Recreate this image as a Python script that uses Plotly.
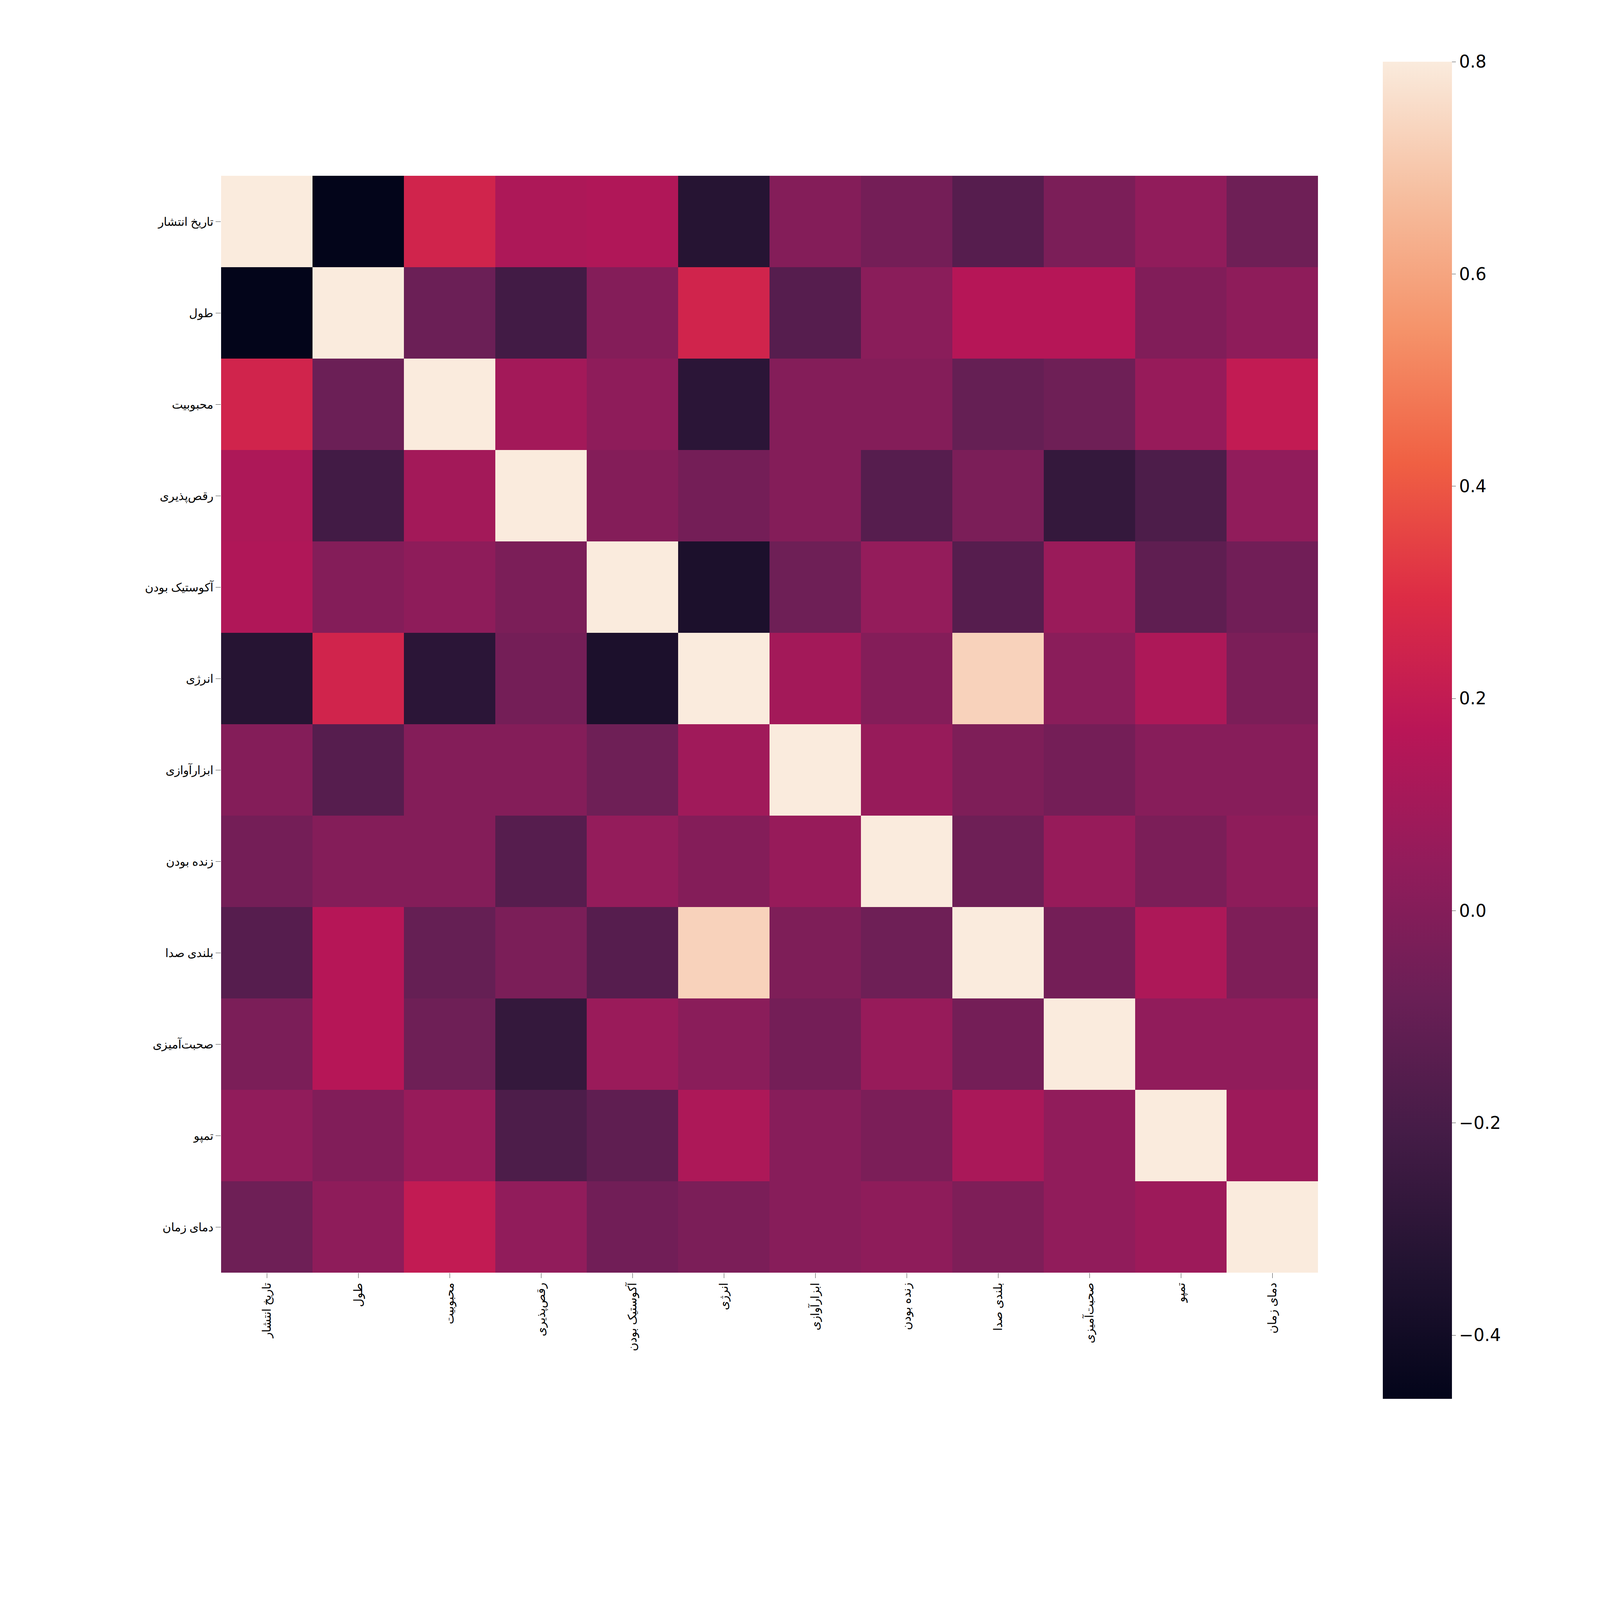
import plotly.graph_objects as go

labels = ["تاریخ انتشار", "طول", "محبوبیت", "رقص‌پذیری", "آکوستیک بودن", "انرژی",
          "ابزارآوازی", "زنده بودن", "بلندی صدا", "صحبت‌آمیزی", "تمپو", "دمای زمان"]

row0 = [1, -0.46, 0.25, 0.13, 0.14, -0.32, 0.0, -0.05, -0.15, -0.03, 0.04, -0.07]
row1 = [-0.46, 1, -0.08, -0.22, 0.0, 0.25, -0.15, 0.02, 0.16, 0.16, -0.01, 0.03]
row2 = [0.25, -0.08, 1, 0.1, 0.03, -0.3, 0.0, 0.0, -0.1, -0.07, 0.06, 0.2]
row3 = [0.13, -0.22, 0.1, 1, 0.0, -0.05, 0.0, -0.15, -0.03, -0.27, -0.18, 0.04]
row4 = [0.14, 0.0, 0.03, -0.03, 1, -0.36, -0.07, 0.05, -0.15, 0.07, -0.12, -0.06]
row5 = [-0.32, 0.25, -0.3, -0.05, -0.36, 1, 0.1, 0.0, 0.73, 0.02, 0.13, -0.03]
row6 = [0.0, -0.15, 0.0, 0.0, -0.07, 0.09, 1, 0.06, -0.02, -0.05, 0.01, 0.01]
row7 = [-0.05, 0.0, 0.0, -0.15, 0.05, 0.0, 0.06, 1, -0.07, 0.06, -0.03, 0.03]
row8 = [-0.15, 0.16, -0.1, -0.03, -0.15, 0.73, -0.02, -0.07, 1, -0.05, 0.13, -0.02]
row9 = [-0.03, 0.16, -0.07, -0.27, 0.07, 0.02, -0.05, 0.06, -0.05, 1, 0.04, 0.04]
row10 = [0.04, -0.01, 0.06, -0.18, -0.12, 0.13, 0.01, -0.03, 0.12, 0.04, 1, 0.08]
row11 = [-0.07, 0.03, 0.2, 0.04, -0.06, -0.03, 0.01, 0.03, -0.02, 0.04, 0.08, 1]
z = [row0, row1, row2, row3, row4, row5, row6, row7, row8, row9, row10, row11]

cb_ticks = [-0.4, -0.2, 0.0, 0.2, 0.4, 0.6, 0.8]

rocket = [[0.0, "#03051A"], [0.1, "#221331"], [0.2, "#451C47"], [0.3, "#6A1F56"],
          [0.4, "#921C5B"], [0.5, "#B91657"], [0.6, "#DD2C45"], [0.7, "#F06043"],
          [0.8, "#F5936A"], [0.9, "#F6BE9F"], [1.0, "#FAEBDD"]]

s = 0.885
W, H = int(4522 * s), int(4358 * s)
L, T = int(631 * s), int(500 * s)
R, B = int(770 * s) - 46, int(737 * s) - 46
PW, PH = W - L - R, H - T - B

fig = go.Figure(go.Heatmap(
    z=z, x=labels, y=labels, colorscale=rocket, zmin=-0.46, zmax=0.8,
    colorbar=dict(tickvals=cb_ticks, tickformat=".1f", ticks="outside", ticklen=10,
                  thickness=177, len=3443, lenmode="pixels",
                  y=(H - B - 140) / PH, yanchor="top", xanchor="left",
                  outlinewidth=0, x=(3980 * s - L) / PW,
                  tickfont=dict(size=44, family="DejaVu Sans", color="black")),
))
fig.update_layout(
    width=W, height=H, paper_bgcolor="white", plot_bgcolor="white",
    margin=dict(l=L, r=R, t=T, b=B),
    font=dict(family="Noto Sans", size=30, color="black"),
)
fig.update_xaxes(tickangle=-90, ticks="outside", ticklen=13, showgrid=False,
                 constrain="domain")
fig.update_yaxes(autorange="reversed", ticks="outside", ticklen=13, showgrid=False,
                 scaleanchor="x", constrain="domain")
fig.write_html("out.html")
